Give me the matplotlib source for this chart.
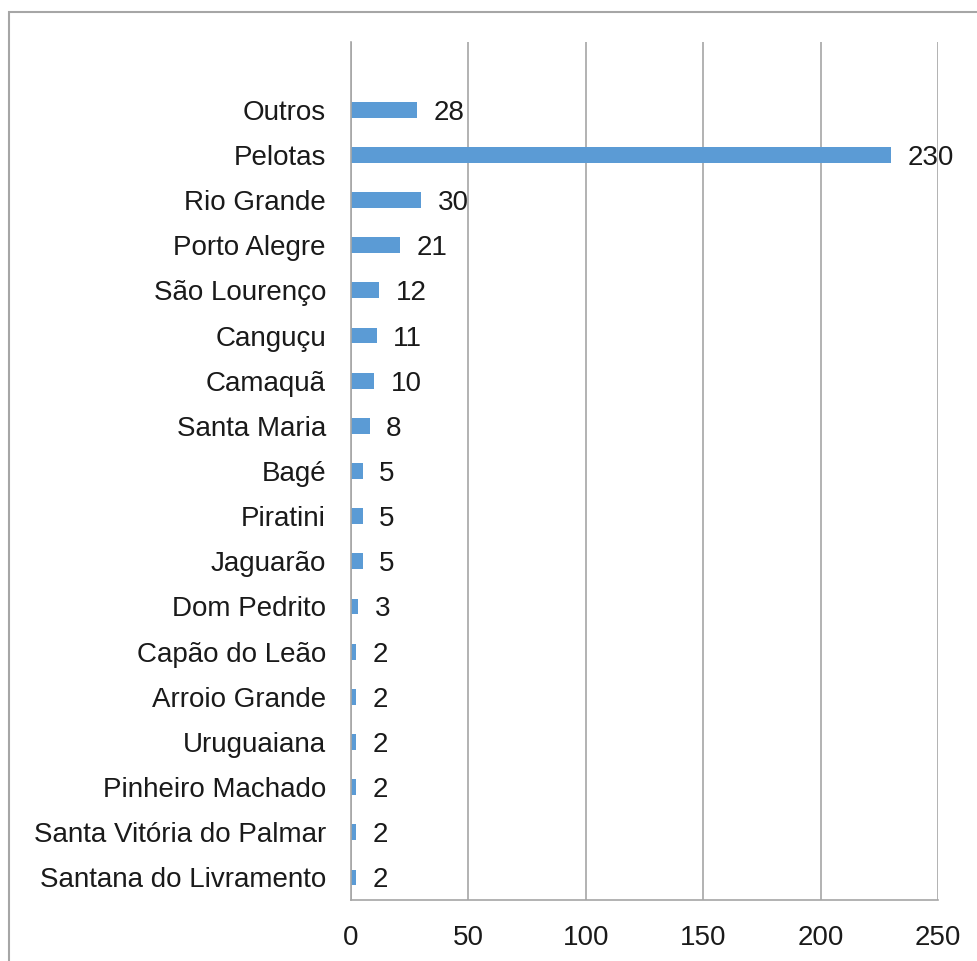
import matplotlib.pyplot as plt
from matplotlib.patches import Rectangle

plt.rcParams['font.family'] = ['Liberation Sans', 'DejaVu Sans']

cities = ["Santana do Livramento", "Santa Vitória do Palmar", "Pinheiro Machado",
          "Uruguaiana", "Arroio Grande", "Capão do Leão", "Dom Pedrito", "Jaguarão",
          "Piratini", "Bagé", "Santa Maria", "Camaquã", "Canguçu", "São Lourenço",
          "Porto Alegre", "Rio Grande", "Pelotas", "Outros"]
counts = [2, 2, 2, 2, 2, 2, 3, 5, 5, 5, 8, 10, 11, 12, 21, 30, 230, 28]
x_ticks = [0, 50, 100, 150, 200, 250]

grid_color = "#A6A6A6"
bar_color = "#5B9BD5"
text_color = "#1a1a1a"
fs = 20

fig = plt.figure(figsize=(9.78, 9.61), dpi=100)
# outer chart frame (cropped on right/bottom in the reference)
fig.patches.append(Rectangle((9 / 978, -0.05), 1.1, 1 - 12 / 961 + 0.05,
                             transform=fig.transFigure, fill=False,
                             edgecolor=grid_color, linewidth=1.5))

ax = fig.add_axes([351 / 978, 1 - 900 / 961, (938 - 351) / 978, (900 - 42) / 961])
ypos = list(range(len(cities)))
ax.barh(ypos, counts, height=0.35, color=bar_color)

for y, v in zip(ypos, counts):
    ax.text(v + 7, y, str(v), va="center_baseline", ha="left", fontsize=fs, color=text_color)

ax.set_xlim(0, 250)
ax.set_ylim(-0.5, len(cities) + 0.5)
ax.set_xticks(x_ticks)
ax.set_yticks(ypos)
ax.set_yticklabels(cities, va="center_baseline")
ax.tick_params(axis="both", length=0, labelsize=fs, colors=text_color)
ax.tick_params(axis="y", pad=18)
ax.tick_params(axis="x", pad=18)

ax.grid(axis="x", color=grid_color, linewidth=1.2)
ax.set_axisbelow(True)
for side in ["top", "right"]:
    ax.spines[side].set_visible(False)
for side in ["left", "bottom"]:
    ax.spines[side].set_color(grid_color)
    ax.spines[side].set_linewidth(1.2)
ax.spines["left"].set_zorder(3)

fig.savefig("out.png", dpi=100)
